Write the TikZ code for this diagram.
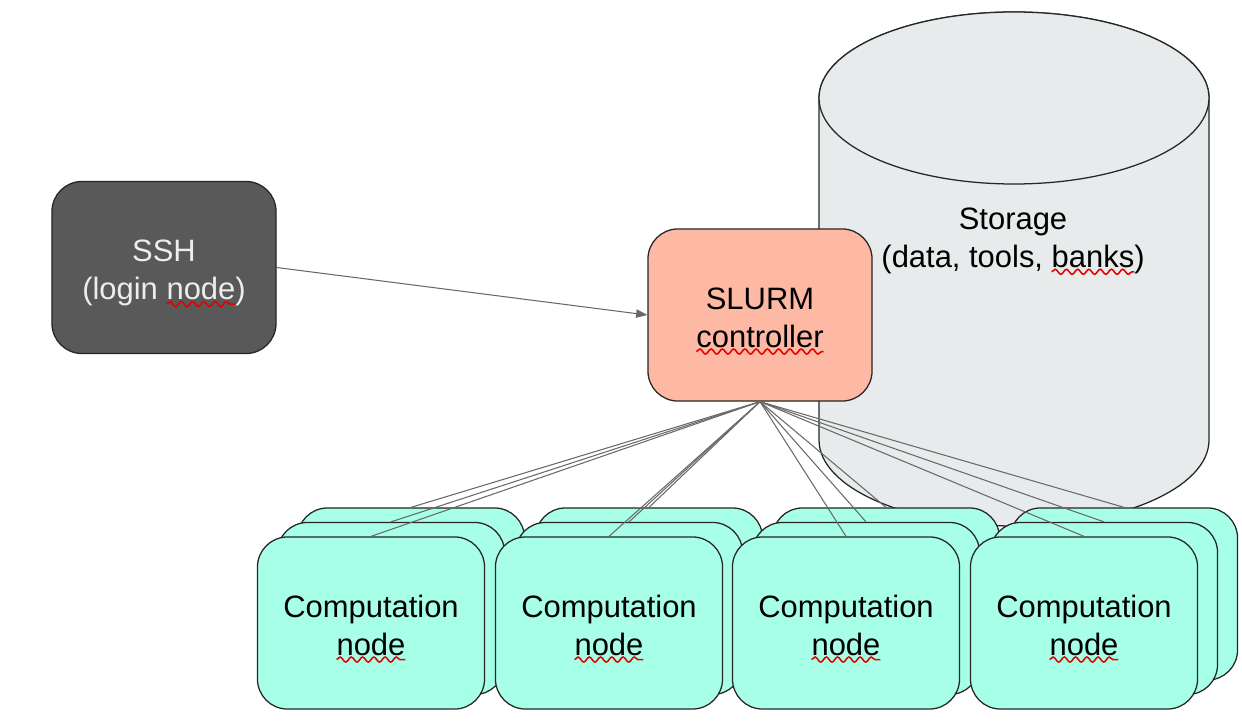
\documentclass[tikz,border=0pt]{standalone}
\usepackage{fontspec}
\setmainfont{Liberation Sans}
\usetikzlibrary{arrows.meta,decorations.pathmorphing}

\definecolor{sshgray}{RGB}{89,89,89}
\definecolor{slurmred}{RGB}{253,185,163}
\definecolor{compcyan}{RGB}{166,255,230}
\definecolor{storegray}{RGB}{232,235,236}
\definecolor{linegray}{RGB}{105,105,105}

\tikzset{spellword/.style={shape=rectangle,inner sep=0pt,outer sep=0pt,draw=none,fill=none,
    minimum width=0pt,minimum height=0pt,text height=,text depth=,sharp corners}}
% red spell-check wave under a word
\newcommand{\typo}[1]{\tikz[baseline=(w.base)]{\node[spellword](w){#1};
    \draw[overlay,red!90!black,line width=1.1pt,sharp corners,decorate,
      decoration={snake,amplitude=1.8pt,segment length=8pt}]
      ([yshift=-3pt]w.base west)--([yshift=-3pt]w.base east);}}

\begin{document}
\begin{tikzpicture}[x=0.025cm,y=0.025cm,
    txt/.style={font={\fontsize{22pt}{27pt}\selectfont},align=center},
    box/.style={txt,draw=black!85,line width=0.9pt,rounded corners=0.75cm,
        minimum width=5.6cm,minimum height=4.3cm,inner sep=0pt,
        text height=50pt,text depth=4pt},
    sshbox/.style={box,fill=sshgray,text=white!93!black},
    slurmbox/.style={box,fill=slurmred},
    compbox/.style={box,fill=compcyan,minimum width=5.675cm},
    link/.style={linegray,line width=0.75pt}]
\useasboundingbox (0,0) rectangle (1242,-728);

% storage cylinder
\draw[fill=storegray,draw=black!85,line width=0.9pt](819,-98)--(819,-440)
    arc[start angle=180,end angle=360,x radius=195,y radius=86]--(1209,-98)
    arc[start angle=0,end angle=180,x radius=195,y radius=86]--cycle;
\draw[fill=storegray,draw=black!85,line width=0.9pt](1014,-98) ellipse[x radius=195,y radius=86];
\node[txt] (store) at (1013,-241) {Storage\\(data, tools, \typo{banks})};

\node[sshbox] (ssh) at (164,-267.5) {SSH\\(login \typo{node})};
\node[slurmbox] (slurm) at (760,-315) {SLURM\\\typo{controller}};

\draw[link,-{Triangle[length=8pt,width=6pt]}](ssh.east)--(slurm.west);

% computation stacks, back layers first
\foreach \n/\cx in {1/371,2/609,3/846,4/1084}{
    \foreach \k in {2,1}
        \node[compbox] (c\n\k) at ({\cx+20*\k},{-623+14.5*\k}) {};
    \node[compbox] (c\n0) at (\cx,-623) {Computation\\\typo{node}};
}

\foreach \n in {1,...,4}
    \foreach \k in {0,1,2}
        \draw[link](slurm.south)--(c\n\k.north);
\end{tikzpicture}
\end{document}
